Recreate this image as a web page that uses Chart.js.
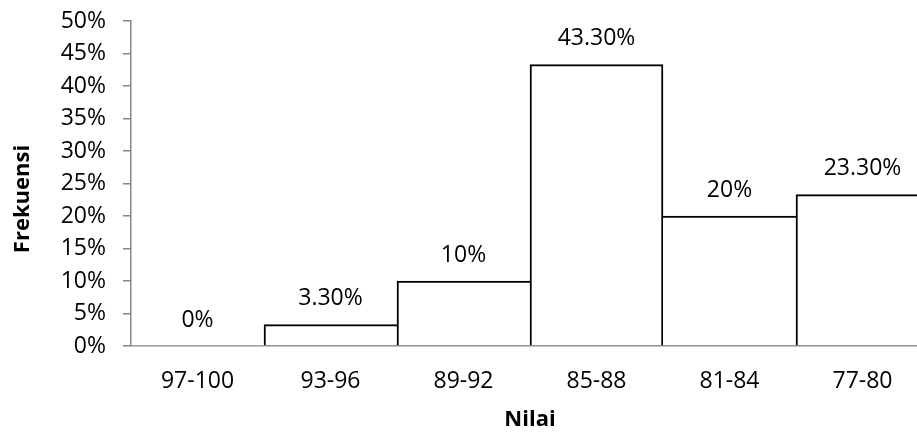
<!DOCTYPE html>
<html>
<head>
<meta charset="utf-8">
<script src="https://cdn.jsdelivr.net/npm/chart.js@4/dist/chart.umd.min.js"></script>
<style>
  html, body { margin: 0; padding: 0; background: #fff; overflow: hidden; }
  #wrap { width: 929px; height: 432px; }
</style>
</head>
<body>
<div id="wrap"><canvas id="c" width="929" height="432"></canvas></div>
<script>
// Score intervals (Nilai) and the share of students in each (Frekuensi, %)
const categories = ['97-100', '93-96', '89-92', '85-88', '81-84', '77-80'];
const frequencies = [0, 3.3, 10, 43.3, 20, 23.3];
const yAxisTitle = 'Frekuensi';
const xAxisTitle = 'Nilai';

const FONT = '"Open Sans", Lato, sans-serif';
const AXIS_GREY = '#868686';

function pctLabel(v) {
  return (Number.isInteger(v) ? String(v) : v.toFixed(2)) + '%';
}

// Adjacent bars share one outline: the taller bar of each pair owns the edge.
function sideWidths(ctx) {
  const d = frequencies;
  const i = ctx.dataIndex;
  const v = d[i];
  if (v === 0) return 0;
  const prev = i > 0 ? d[i - 1] : -1;
  const next = i < d.length - 1 ? d[i + 1] : -1;
  return { top: 2, bottom: 0, left: v >= prev ? 2 : 0, right: v > next ? 2 : 0 };
}

const valueLabels = {
  id: 'valueLabels',
  afterDatasetsDraw(chart) {
    const ctx = chart.ctx;
    const meta = chart.getDatasetMeta(0);
    ctx.save();
    ctx.font = '23px ' + FONT;
    ctx.fillStyle = '#000';
    ctx.textAlign = 'center';
    ctx.textBaseline = 'middle';
    meta.data.forEach((bar, i) => {
      ctx.fillText(pctLabel(frequencies[i]), bar.x, bar.y - 26);
    });
    ctx.restore();
  }
};

const axisTitles = {
  id: 'axisTitles',
  afterDraw(chart) {
    const ctx = chart.ctx;
    const area = chart.chartArea;
    ctx.save();
    ctx.font = 'bold 22px ' + FONT;
    ctx.fillStyle = '#000';
    ctx.textAlign = 'center';
    ctx.textBaseline = 'middle';
    ctx.fillText(xAxisTitle, (area.left + area.right) / 2, 420);
    ctx.translate(23, 199);
    ctx.rotate(-Math.PI / 2);
    ctx.fillText(yAxisTitle, 0, 0);
    ctx.restore();
  }
};

new Chart(document.getElementById('c'), {
  type: 'bar',
  data: {
    labels: categories,
    datasets: [{
      data: frequencies,
      backgroundColor: '#ffffff',
      borderColor: '#000000',
      borderWidth: sideWidths,
      borderSkipped: false,
      barPercentage: 1,
      categoryPercentage: 1
    }]
  },
  options: {
    responsive: false,
    devicePixelRatio: 1,
    animation: false,
    layout: { padding: { top: 21, left: 0, right: 0, bottom: 0 } },
    plugins: { legend: { display: false }, tooltip: { enabled: false } },
    scales: {
      x: {
        offset: true,
        z: 1,
        grid: { display: false },
        border: { color: AXIS_GREY, width: 1.5 },
        ticks: { color: '#000', font: { family: FONT, size: 23 }, padding: 14 },
        afterFit(scale) { scale.height = 86; }
      },
      y: {
        min: 0,
        max: 50,
        grid: { drawOnChartArea: false, tickLength: 8, color: AXIS_GREY, lineWidth: 1.5 },
        border: { color: AXIS_GREY, width: 1.5 },
        ticks: {
          stepSize: 5, color: '#000', padding: 17,
          font: { family: FONT, size: 23, lineHeight: 0.3 },
          callback: (v) => v + '%'
        },
        afterFit(scale) { scale.width = 131; }
      }
    }
  },
  plugins: [valueLabels, axisTitles]
});
</script>
</body>
</html>
